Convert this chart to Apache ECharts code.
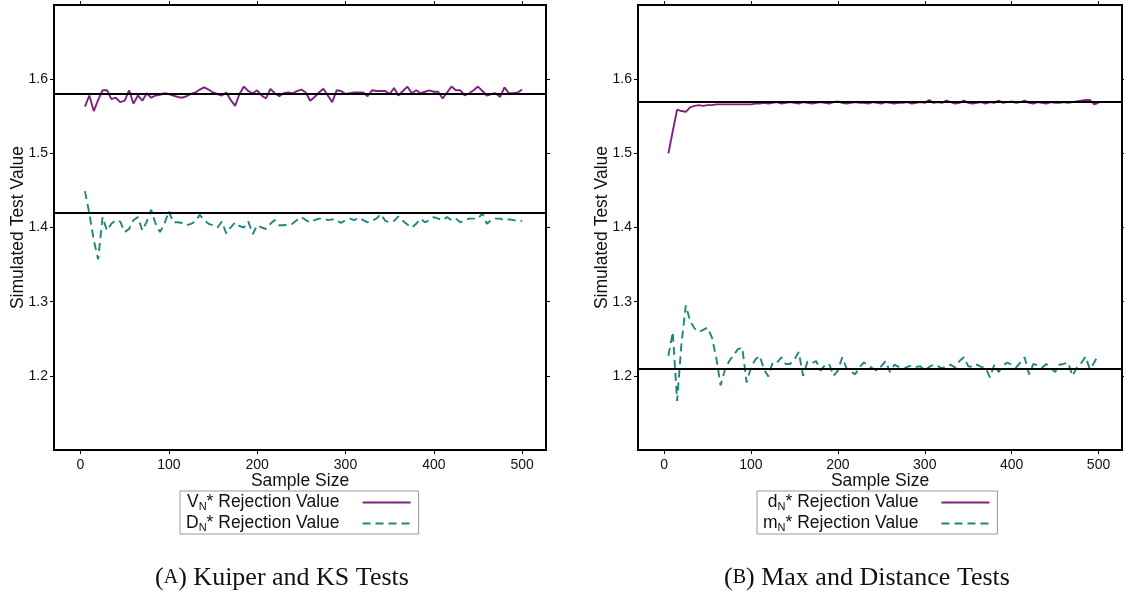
<!DOCTYPE html>
<html>
<head>
<meta charset="utf-8">
<script src="https://cdn.jsdelivr.net/npm/echarts@6/dist/echarts.min.js"></script>
<style>
html,body{margin:0;padding:0;background:#fff;}
#c{width:1124px;height:592px;}
</style>
</head>
<body>
<div id="c"></div>
<script>
// ---- data ----
var sampleSizes = [];
for (var i = 1; i <= 100; i++) sampleSizes.push(i * 5);

var xTicks = [0, 100, 200, 300, 400, 500];
var yTicks = [1.2, 1.3, 1.4, 1.5, 1.6];

var kuiperV = [
1.563,1.578,1.557,1.572,1.585,1.585,1.573,1.575,1.569,1.571,
1.585,1.567,1.578,1.571,1.581,1.575,1.578,1.579,1.581,1.580,
1.578,1.576,1.575,1.577,1.580,1.582,1.586,1.589,1.586,1.582,
1.580,1.578,1.582,1.572,1.564,1.580,1.590,1.584,1.581,1.585,
1.578,1.574,1.587,1.581,1.577,1.581,1.582,1.581,1.584,1.586,
1.582,1.571,1.576,1.582,1.587,1.578,1.569,1.585,1.584,1.580,
1.581,1.582,1.582,1.582,1.577,1.585,1.584,1.584,1.584,1.580,
1.588,1.578,1.584,1.590,1.581,1.585,1.581,1.583,1.585,1.583,
1.583,1.574,1.582,1.590,1.585,1.585,1.578,1.581,1.585,1.590,
1.584,1.578,1.580,1.581,1.576,1.589,1.581,1.581,1.582,1.586
];
var ksD = [
1.449,1.419,1.383,1.357,1.414,1.396,1.405,1.410,1.408,1.394,
1.398,1.410,1.414,1.396,1.408,1.424,1.405,1.394,1.405,1.422,
1.407,1.407,1.406,1.403,1.405,1.408,1.417,1.410,1.405,1.403,
1.400,1.408,1.392,1.400,1.407,1.402,1.400,1.408,1.391,1.403,
1.400,1.398,1.405,1.410,1.403,1.403,1.404,1.405,1.410,1.414,
1.410,1.407,1.410,1.412,1.412,1.410,1.411,1.410,1.406,1.410,
1.412,1.410,1.413,1.410,1.407,1.409,1.412,1.418,1.409,1.407,
1.409,1.415,1.409,1.404,1.400,1.405,1.412,1.407,1.410,1.414,
1.412,1.410,1.414,1.410,1.412,1.407,1.410,1.412,1.412,1.412,
1.419,1.405,1.410,1.412,1.412,1.410,1.411,1.410,1.409,1.409
];
var maxD = [
1.500,1.530,1.559,1.557,1.556,1.562,1.564,1.565,1.564,1.565,
1.565,1.566,1.566,1.566,1.566,1.566,1.566,1.566,1.566,1.566,
1.567,1.567,1.568,1.567,1.568,1.569,1.567,1.568,1.569,1.568,
1.567,1.569,1.568,1.567,1.568,1.569,1.568,1.567,1.569,1.570,
1.568,1.567,1.568,1.569,1.568,1.568,1.567,1.569,1.568,1.567,
1.569,1.568,1.567,1.568,1.568,1.569,1.567,1.568,1.569,1.568,
1.572,1.568,1.569,1.568,1.571,1.569,1.567,1.568,1.571,1.568,
1.567,1.568,1.569,1.567,1.569,1.568,1.571,1.568,1.569,1.570,
1.568,1.569,1.571,1.568,1.567,1.569,1.568,1.567,1.569,1.568,
1.568,1.569,1.568,1.569,1.570,1.571,1.572,1.572,1.566,1.568
];
var distM = [
1.227,1.259,1.166,1.243,1.295,1.274,1.264,1.259,1.262,1.265,
1.252,1.225,1.187,1.208,1.220,1.228,1.236,1.238,1.191,1.211,
1.222,1.227,1.209,1.199,1.218,1.218,1.225,1.216,1.216,1.222,
1.232,1.200,1.219,1.217,1.220,1.207,1.214,1.216,1.200,1.207,
1.225,1.210,1.206,1.202,1.212,1.218,1.214,1.210,1.207,1.213,
1.220,1.205,1.215,1.212,1.209,1.212,1.214,1.212,1.213,1.207,
1.212,1.215,1.213,1.210,1.213,1.215,1.211,1.220,1.225,1.213,
1.212,1.215,1.212,1.211,1.198,1.215,1.205,1.214,1.218,1.215,
1.211,1.218,1.225,1.202,1.216,1.214,1.211,1.216,1.210,1.205,
1.215,1.216,1.218,1.200,1.211,1.217,1.226,1.209,1.218,1.229
];
var refLinesA = [1.58, 1.42];
var refLinesB = [1.57, 1.212];

var namesA = ['V_N* Rejection Value', 'D_N* Rejection Value'];
var namesB = ['d_N* Rejection Value', 'm_N* Rejection Value'];
var captionA = ['(', 'A', ') Kuiper and KS Tests'];
var captionB = ['(', 'B', ') Max and Distance Tests'];

// ---- build ----
function pairs(vals) { return vals.map(function (v, i) { return [sampleSizes[i], v]; }); }

var PURPLE = '#7e2180';
var TEAL = '#1e8580';
var FONT = 'Liberation Sans';

function xAx(gi, pos) {
  return {
    type: 'value', gridIndex: gi, position: pos, min: -30, max: 527,
    axisLine: { show: false, onZero: false },
    splitLine: { show: false },
    axisTick: { show: true, inside: false, length: 4, customValues: xTicks, lineStyle: { color: '#000', width: 1 } },
    axisLabel: pos === 'bottom' ? { show: true, customValues: xTicks, margin: 8, color: '#111', fontFamily: FONT, fontSize: 14 } : { show: false },
    name: pos === 'bottom' ? 'Sample Size' : '',
    nameLocation: 'middle', nameGap: 22, nameMoveOverlap: false,
    nameTextStyle: { color: '#111', fontFamily: FONT, fontSize: 17.5 }
  };
}
function yAx(gi, pos) {
  return {
    type: 'value', gridIndex: gi, position: pos, min: 1.1, max: 1.7,
    axisLine: { show: false, onZero: false },
    splitLine: { show: false },
    axisTick: { show: true, inside: false, length: 4, customValues: yTicks, lineStyle: { color: '#000', width: 1 } },
    axisLabel: pos === 'left' ? { show: true, customValues: yTicks, margin: 6, color: '#111', fontFamily: FONT, fontSize: 14, formatter: function (v) { return v.toFixed(1); } } : { show: false },
    name: pos === 'left' ? 'Simulated Test Value' : '',
    nameLocation: 'middle', nameGap: 27, nameRotate: 90, nameMoveOverlap: false,
    nameTextStyle: { color: '#111', fontFamily: FONT, fontSize: 17.5 }
  };
}
function lineSeries(name, vals, xi, yi, color, dashed, refs) {
  var s = {
    type: 'line', name: name, xAxisIndex: xi, yAxisIndex: yi,
    data: pairs(vals), symbol: 'none', showSymbol: false, smooth: false,
    lineStyle: { color: color, width: 1.9, type: dashed ? [8, 5] : 'solid' },
    itemStyle: { color: color },
    z: 2, animation: false
  };
  if (refs) {
    s.markLine = {
      silent: true, symbol: ['none', 'none'], animation: false,
      label: { show: false },
      lineStyle: { color: '#000', width: 2, type: 'solid' },
      data: refs.map(function (r) { return { yAxis: r }; })
    };
  }
  return s;
}
function legendFmt(n) {
  var parts = n.split('_N');
  return '{a|' + parts[0] + '}{s|N}{b|' + parts[1] + '}';
}
function legend(names, left) {
  return {
    data: names, orient: 'vertical', left: left, top: 491, align: 'right',
    itemWidth: 48, itemHeight: 12, itemGap: 2,
    padding: [2, 7, 1, 6],
    borderColor: '#9a9a9a', borderWidth: 1, borderRadius: 0,
    selectedMode: false,
    itemStyle: { opacity: 0, borderWidth: 0 },
    formatter: legendFmt,
    textStyle: {
      rich: {
        a: { fontFamily: FONT, fontSize: 17.5, color: '#111', lineHeight: 19 },
        s: { fontFamily: FONT, fontSize: 11, color: '#111', lineHeight: 19, verticalAlign: 'bottom', padding: [8, 0, 0, 0] },
        b: { fontFamily: FONT, fontSize: 17.5, color: '#111', lineHeight: 19, padding: [0, 18, 0, 0] }
      }
    }
  };
}
function caption(parts, cx) {
  return {
    text: '{n|' + parts[0] + '}{c|' + parts[1] + '}{n|' + parts[2] + '}',
    left: cx, top: 560, textAlign: 'center',
    textStyle: {
      fontWeight: 'normal',
      rich: {
        n: { fontFamily: 'Liberation Serif', fontSize: 26, fontWeight: 'normal', color: '#111' },
        c: { fontFamily: 'Liberation Serif', fontSize: 20, fontWeight: 'normal', color: '#111' }
      }
    }
  };
}

var option = {
  backgroundColor: '#fff',
  animation: false,
  title: [caption(captionA, 277), caption(captionB, 862)],
  grid: [
    { left: 54, top: 5, width: 492, height: 445, show: true, borderColor: '#000', borderWidth: 2, backgroundColor: 'transparent' },
    { left: 638, top: 5, width: 484, height: 445, show: true, borderColor: '#000', borderWidth: 2, backgroundColor: 'transparent' }
  ],
  xAxis: [xAx(0, 'bottom'), xAx(0, 'top'), xAx(1, 'bottom'), xAx(1, 'top')],
  yAxis: [yAx(0, 'left'), yAx(0, 'right'), yAx(1, 'left'), yAx(1, 'right')],
  legend: [legend(namesA, 180), legend(namesB, 757)],
  series: [
    lineSeries(namesA[0], kuiperV, 0, 0, PURPLE, false, refLinesA),
    lineSeries(namesA[1], ksD, 0, 0, TEAL, true, null),
    lineSeries(namesB[0], maxD, 2, 2, PURPLE, false, refLinesB),
    lineSeries(namesB[1], distM, 2, 2, TEAL, true, null)
  ]
};
var chart = echarts.init(document.getElementById('c'), null, { renderer: 'canvas' });
chart.setOption(option);
</script>
</body>
</html>
